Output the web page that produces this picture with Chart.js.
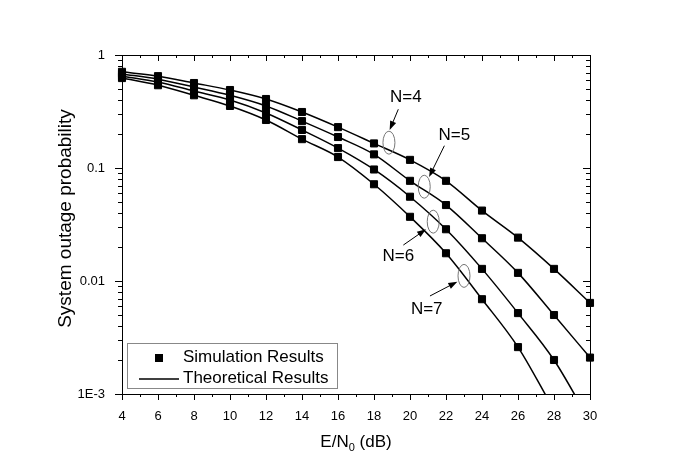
<!DOCTYPE html>
<html>
<head>
<meta charset="utf-8">
<script src="https://cdn.jsdelivr.net/npm/chart.js@4.4.0/dist/chart.umd.min.js"></script>
<style>
body { margin: 0; background: #fff; }
#wrap { width: 685px; height: 474px; position: relative; }
</style>
</head>
<body>
<div id="wrap"><canvas id="chart"></canvas></div>
<script>
var xValues = [4, 6, 8, 10, 12, 14, 16, 18, 20, 22, 24, 26, 28, 30];
var n4Values = [0.71, 0.65, 0.565, 0.49, 0.408, 0.313, 0.23, 0.165, 0.118, 0.077, 0.042, 0.0242, 0.0128, 0.0064];
var n5Values = [0.68, 0.61, 0.52, 0.44, 0.354, 0.26, 0.188, 0.132, 0.077, 0.047, 0.0239, 0.0118, 0.0050, 0.0021];
var n6Values = [0.65, 0.577, 0.48, 0.40, 0.307, 0.217, 0.150, 0.097, 0.0557, 0.0287, 0.0128, 0.0052, 0.0020, 0.00057];
var n7Values = [0.625, 0.54, 0.44, 0.354, 0.266, 0.18, 0.125, 0.0718, 0.037, 0.0176, 0.0069, 0.0026, 0.00073, 0.00023];
var seriesNames = ['N=4', 'N=5', 'N=6', 'N=7'];
var xTickValues = [4, 6, 8, 10, 12, 14, 16, 18, 20, 22, 24, 26, 28, 30];
var yTickValues = [0.001, 0.01, 0.1, 1];
var yTickLabels = ['1E-3', '0.01', '0.1', '1'];
var legendLabels = ['Simulation Results', 'Theoretical Results'];
var yTitle = 'System outage probability';

// callouts, in data units (x in dB, y as probability)
var noteLabelPos = [[19.77, 0.42], [22.46, 0.196], [19.35, 0.0164], [20.93, 0.0056]];
var noteEllipsePos = [[18.83, 0.1675], [20.79, 0.0683], [21.29, 0.0335], [23.0, 0.0111]];
var noteArrowFrom = [[19.35, 0.331], [21.91, 0.1575], [19.63, 0.0208], [21.11, 0.00737]];
var noteArrowTo = [[18.87, 0.217], [21.06, 0.0832], [20.89, 0.0287], [22.63, 0.00986]];

var fontName = '"Liberation Sans", Arial, sans-serif';
var allValues = [n4Values, n5Values, n6Values, n7Values];

function makeData(values) {
  var pts = [];
  for (var i = 0; i < xValues.length; i++) {
    pts.push({x: xValues[i], y: values[i]});
  }
  return pts;
}

var datasets = [];
for (var i = 0; i < allValues.length; i++) {
  datasets.push({
    label: seriesNames[i],
    data: makeData(allValues[i]),
    borderColor: '#000',
    borderWidth: 1.5,
    backgroundColor: '#000',
    pointStyle: 'rect',
    pointRadius: 5,
    pointBorderWidth: 1,
    pointBorderColor: '#000',
    pointBackgroundColor: '#000',
    cubicInterpolationMode: 'monotone',
    clip: {left: 6, top: 6, right: 6, bottom: 0}
  });
}

function drawArrow(ctx, x1, y1, x2, y2) {
  var ang = Math.atan2(y2 - y1, x2 - x1);
  ctx.beginPath();
  ctx.moveTo(x1, y1);
  ctx.lineTo(x2 - 6 * Math.cos(ang), y2 - 6 * Math.sin(ang));
  ctx.stroke();
  ctx.beginPath();
  ctx.moveTo(x2, y2);
  ctx.lineTo(x2 - 9 * Math.cos(ang) + 3.2 * Math.sin(ang), y2 - 9 * Math.sin(ang) - 3.2 * Math.cos(ang));
  ctx.lineTo(x2 - 9 * Math.cos(ang) - 3.2 * Math.sin(ang), y2 - 9 * Math.sin(ang) + 3.2 * Math.cos(ang));
  ctx.closePath();
  ctx.fill();
}

var extrasPlugin = {
  id: 'extras',
  afterDraw: function(chart) {
    var ctx = chart.ctx;
    var a = chart.chartArea;
    var xs = chart.scales.x;
    var ys = chart.scales.y;
    ctx.save();
    ctx.strokeStyle = '#000';
    ctx.fillStyle = '#000';
    ctx.lineWidth = 1;

    // frame
    ctx.strokeRect(a.left + 0.5, a.top + 0.5, a.right - a.left, a.bottom - a.top);

    // x ticks
    ctx.beginPath();
    for (var v = 4; v <= 30; v++) {
      var px = Math.round(xs.getPixelForValue(v)) + 0.5;
      var len = (v % 2 === 0) ? 6 : 3;
      ctx.moveTo(px, a.bottom);
      ctx.lineTo(px, a.bottom + len);
      ctx.moveTo(px, a.top);
      ctx.lineTo(px, a.top + len);
    }
    // y ticks
    for (var k = -3; k <= 0; k++) {
      for (var m = 1; m <= 9; m++) {
        if (k === 0 && m > 1) break;
        var py = Math.round(ys.getPixelForValue(m * Math.pow(10, k))) + 0.5;
        var l2 = (m === 1) ? 7 : 4;
        ctx.moveTo(a.left - l2, py);
        ctx.lineTo(a.left, py);
        ctx.moveTo(a.right - l2, py);
        ctx.lineTo(a.right, py);
      }
    }
    ctx.stroke();

    // axis titles
    ctx.textBaseline = 'middle';
    ctx.font = '17px ' + fontName;
    var w1 = ctx.measureText('E/N').width;
    var w3 = ctx.measureText(' (dB)').width;
    ctx.font = '11px ' + fontName;
    var w2 = ctx.measureText('0').width;
    var tx = (a.left + a.right) / 2 - (w1 + w2 + w3) / 2;
    ctx.textAlign = 'left';
    ctx.font = '17px ' + fontName;
    ctx.fillText('E/N', tx, 442);
    ctx.font = '11px ' + fontName;
    ctx.fillText('0', tx + w1, 448);
    ctx.font = '17px ' + fontName;
    ctx.fillText(' (dB)', tx + w1 + w2, 442);

    ctx.save();
    ctx.translate(66, (a.top + a.bottom) / 2 - 6);
    ctx.rotate(-Math.PI / 2);
    ctx.textAlign = 'center';
    ctx.font = '19px ' + fontName;
    ctx.fillText(yTitle, 0, 0);
    ctx.restore();

    // legend
    ctx.strokeStyle = '#888';
    ctx.strokeRect(127.5, 343.5, 210, 45);
    ctx.fillStyle = '#000';
    ctx.fillRect(155, 354, 8, 8);
    ctx.strokeStyle = '#000';
    ctx.lineWidth = 1.5;
    ctx.beginPath();
    ctx.moveTo(139, 379);
    ctx.lineTo(179, 379);
    ctx.stroke();
    ctx.font = '17px ' + fontName;
    ctx.textAlign = 'left';
    ctx.fillText(legendLabels[0], 183, 357);
    ctx.fillText(legendLabels[1], 183, 378);

    // callouts
    for (var i = 0; i < seriesNames.length; i++) {
      var ex = xs.getPixelForValue(noteEllipsePos[i][0]);
      var ey = ys.getPixelForValue(noteEllipsePos[i][1]);
      ctx.strokeStyle = '#777';
      ctx.lineWidth = 1;
      ctx.beginPath();
      ctx.ellipse(ex, ey, 6, 11.5, 0, 0, Math.PI * 2);
      ctx.stroke();
      ctx.strokeStyle = '#000';
      drawArrow(ctx, xs.getPixelForValue(noteArrowFrom[i][0]), ys.getPixelForValue(noteArrowFrom[i][1]),
        xs.getPixelForValue(noteArrowTo[i][0]), ys.getPixelForValue(noteArrowTo[i][1]));
      ctx.textAlign = 'center';
      ctx.font = '17px ' + fontName;
      ctx.fillText(seriesNames[i], xs.getPixelForValue(noteLabelPos[i][0]), ys.getPixelForValue(noteLabelPos[i][1]));
    }
    ctx.restore();
  }
};

var chart = new Chart(document.getElementById('chart'), {
  type: 'line',
  data: {datasets: datasets},
  options: {
    responsive: true,
    maintainAspectRatio: false,
    animation: false,
    layout: {padding: {left: 0, top: 55, right: 95, bottom: 0}},
    plugins: {legend: {display: false}, tooltip: {enabled: false}},
    scales: {
      x: {
        type: 'linear',
        min: 4,
        max: 30,
        grid: {display: false},
        border: {display: false},
        afterFit: function(scale) { scale.height = 80; },
        afterBuildTicks: function(scale) {
          scale.ticks = xTickValues.map(function(v) { return {value: v}; });
        },
        ticks: {color: '#000', padding: 7, font: {family: fontName, size: 13}, maxRotation: 0}
      },
      y: {
        type: 'logarithmic',
        min: 0.001,
        max: 1,
        grid: {display: false},
        border: {display: false},
        afterFit: function(scale) { scale.width = 122; },
        afterBuildTicks: function(scale) {
          scale.ticks = yTickValues.map(function(v) { return {value: v}; });
        },
        ticks: {
          color: '#000',
          padding: 9,
          font: {family: fontName, size: 13},
          callback: function(value) {
            var idx = yTickValues.indexOf(value);
            return idx >= 0 ? yTickLabels[idx] : '';
          }
        }
      }
    }
  },
  plugins: [extrasPlugin]
});
</script>
</body>
</html>
